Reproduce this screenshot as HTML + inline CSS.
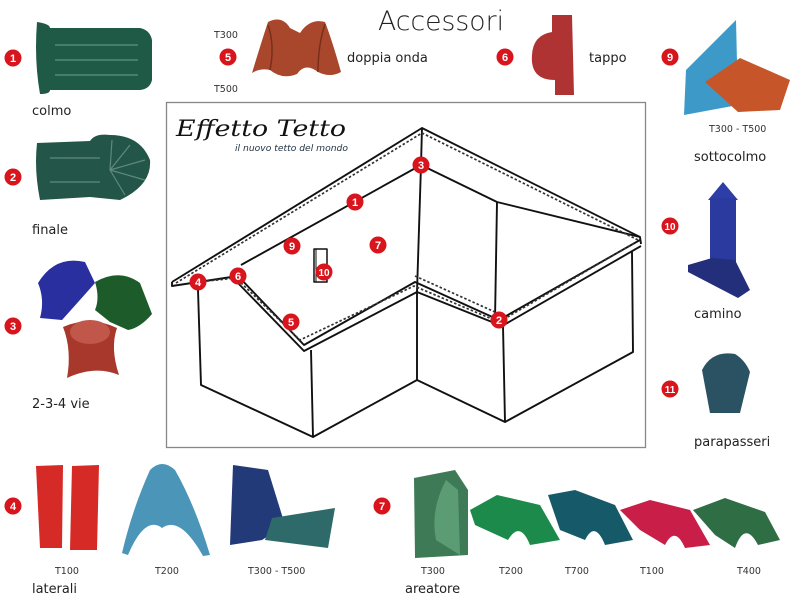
<!DOCTYPE html>
<html><head><meta charset="utf-8"><style>
html,body{margin:0;padding:0;background:#fff}
body{width:800px;height:600px;overflow:hidden;position:relative;font-family:"DejaVu Sans","Liberation Sans",sans-serif}
svg{position:absolute;left:0;top:0}
</style></head><body>
<svg width="800" height="600" viewBox="0 0 800 600" xmlns="http://www.w3.org/2000/svg">
<defs>
<g id="b"><circle r="8.5" fill="#d8141c"/></g>
</defs>
<text x="378" y="30" font-family="DejaVu Sans" font-size="27" font-weight="200" fill="#222" textLength="126" lengthAdjust="spacingAndGlyphs">Accessori</text>

<rect x="166.5" y="102.5" width="479" height="345" fill="#fff" stroke="#888" stroke-width="1.3"/>
<text x="176" y="136" font-family="DejaVu Serif" font-style="italic" font-size="22" fill="#111" textLength="170" lengthAdjust="spacingAndGlyphs">Effetto Tetto</text>
<text x="235" y="151" font-family="DejaVu Sans" font-style="italic" font-size="8.5" fill="#234" textLength="113" lengthAdjust="spacingAndGlyphs">il nuovo tetto del mondo</text>

<g fill="none" stroke="#111" stroke-width="1.9" stroke-linejoin="round">
<polyline points="172,282 422,128 640,237 641,244"/>
<polyline points="172,282 172,286 238,276"/>
<polyline points="238,276 304,345 415,282 499,320 640,240"/>
<polyline points="236,281 304,351 417,292 502,326 641,246"/>
<polyline points="241,265 421,165 497,202 640,237"/>
<polyline points="422,128 421,165 417,292"/>
<polyline points="497,202 495,320"/>
<polyline points="198,290 201,385 313,437 311,350"/>
<polyline points="313,437 417,380 417,292"/>
<polyline points="417,380 505,422 503,326"/>
<polyline points="505,422 633,352 632,252"/>
<rect x="314" y="249" width="13" height="33" stroke-width="1.5"/>
<line x1="316" y1="249" x2="316" y2="282" stroke-width="1"/>
</g>
<g fill="none" stroke="#333" stroke-width="1.7" stroke-dasharray="2.5,2">
<polyline points="176,283 422,133 638,240"/>
<polyline points="198,282 236,278 300,340 414,286 499,322 636,242"/>
<polyline points="415,276 495,312"/>
</g>
<g font-family="Liberation Sans" font-weight="bold" font-size="11" fill="#fff" text-anchor="middle">
<use href="#b" x="421" y="165"/><text x="421" y="169">3</text>
<use href="#b" x="355" y="202"/><text x="355" y="206">1</text>
<use href="#b" x="292" y="246"/><text x="292" y="250">9</text>
<use href="#b" x="378" y="245"/><text x="378" y="249">7</text>
<use href="#b" x="324" y="272"/><text x="324" y="276" font-size="10">10</text>
<use href="#b" x="198" y="282"/><text x="198" y="286">4</text>
<use href="#b" x="238" y="276"/><text x="238" y="280">6</text>
<use href="#b" x="291" y="322"/><text x="291" y="326">5</text>
<use href="#b" x="499" y="320"/><text x="499" y="324">2</text>
<use href="#b" x="13" y="58"/><text x="13" y="62">1</text>
<use href="#b" x="13" y="177"/><text x="13" y="181">2</text>
<use href="#b" x="13" y="326"/><text x="13" y="330">3</text>
<use href="#b" x="13" y="506"/><text x="13" y="510">4</text>
<use href="#b" x="228" y="57"/><text x="228" y="61">5</text>
<use href="#b" x="505" y="57"/><text x="505" y="61">6</text>
<use href="#b" x="670" y="57"/><text x="670" y="61">9</text>
<use href="#b" x="670" y="226"/><text x="670" y="230" font-size="10">10</text>
<use href="#b" x="670" y="389"/><text x="670" y="393" font-size="10">11</text>
<use href="#b" x="382" y="506"/><text x="382" y="510">7</text>
</g>

<g font-family="DejaVu Sans" font-size="13" fill="#222">
<text x="32" y="115">colmo</text>
<text x="32" y="234">finale</text>
<text x="32" y="408">2-3-4 vie</text>
<text x="32" y="593" textLength="45" lengthAdjust="spacingAndGlyphs">laterali</text>
<text x="347" y="62">doppia onda</text>
<text x="589" y="62">tappo</text>
<text x="694" y="161">sottocolmo</text>
<text x="694" y="318">camino</text>
<text x="694" y="446">parapasseri</text>
<text x="405" y="593">areatore</text>
</g>
<g font-family="DejaVu Sans" font-size="9.5" fill="#333">
<text x="214" y="38">T300</text><text x="214" y="92">T500</text>
<text x="709" y="132">T300 - T500</text>
<text x="55" y="574">T100</text><text x="155" y="574">T200</text><text x="248" y="574">T300 - T500</text>
<text x="421" y="574">T300</text><text x="499" y="574">T200</text><text x="565" y="574">T700</text><text x="640" y="574">T100</text><text x="737" y="574">T400</text>
</g>

<path d="M37,22 Q50,24 50,28 L140,28 Q150,30 152,40 L152,80 Q150,89 140,90 L50,90 Q50,94 40,94 Q34,60 37,22Z" fill="#1f5a47"/>
<g stroke="#4f8a76" stroke-width="1.5"><line x1="55" y1="45" x2="138" y2="45"/><line x1="55" y1="60" x2="138" y2="60"/><line x1="55" y1="75" x2="138" y2="75"/></g>
<path d="M37,143 L90,141 Q95,133 110,135 Q140,135 150,160 Q152,185 120,200 L90,197 L40,200 Q34,170 37,143Z" fill="#235549"/>
<g stroke="#5f8a7c" stroke-width="1.2" fill="none"><path d="M110,170 L112,140 M110,170 L130,145 M110,170 L145,160 M110,170 L145,180 M110,170 L125,195"/><line x1="50" y1="158" x2="100" y2="158"/><line x1="50" y1="182" x2="100" y2="182"/></g>
<path d="M38,283 Q55,255 85,262 L95,283 Q80,300 62,320 L40,318 Q45,300 38,283Z" fill="#2a2fa0"/>
<path d="M95,282 Q120,268 140,283 L152,314 Q140,328 128,330 L110,322 L95,310 Q100,298 95,282Z" fill="#1e5b2a"/>
<path d="M63,327 Q90,315 117,328 Q110,348 119,375 Q95,365 67,378 Q72,350 63,327Z" fill="#a8382b"/>
<ellipse cx="90" cy="332" rx="20" ry="12" fill="#c0574a"/>
<path d="M252,73 Q262,40 268,22 Q282,15 290,28 L300,33 Q310,18 325,22 Q332,40 341,72 Q330,78 318,72 Q305,62 297,74 Q282,80 270,70 Q260,68 252,73Z" fill="#a9472c"/>
<path d="M268,25 Q275,45 270,70 M325,24 Q318,45 318,72" stroke="#7a2e1a" stroke-width="1.5" fill="none"/>
<path d="M552,15 L572,15 L574,95 L555,95 L555,80 Q530,80 532,55 Q533,35 552,32Z" fill="#b03333"/>
<path d="M684,115 L686,70 L736,20 L738,105 Z" fill="#3d9ac8"/>
<path d="M705,82 L740,58 L790,80 L780,110 L738,112 Z" fill="#c6562a"/>
<path d="M708,200 L723,182 L738,200 Z" fill="#2e3ea8"/>
<rect x="710" y="198" width="26" height="85" fill="#2b3a9e"/>
<path d="M688,265 L712,258 L735,260 L750,290 L738,298 L688,272Z" fill="#232f7a"/>
<path d="M702,370 Q712,350 735,354 Q745,360 750,372 L740,413 L710,413 Z" fill="#2a5262"/>
<path d="M36,466 L63,465 L62,548 L40,548Z" fill="#d62a26"/>
<path d="M72,466 L99,465 L97,550 L70,550Z" fill="#d62a26"/>
<path d="M122,553 Q132,510 150,470 Q162,458 175,470 Q195,505 210,555 L203,556 Q180,515 162,528 Q145,515 128,555Z" fill="#4a95b8"/>
<path d="M233,465 L268,470 L285,525 L262,540 L230,545 Z" fill="#223a78"/>
<path d="M272,518 L335,508 L328,548 L265,540 Z" fill="#2f6a6a"/>
<path d="M414,478 L455,470 L468,490 L468,555 L415,558 Z" fill="#3f7a56"/>
<path d="M436,540 Q430,510 446,480 L458,490 L460,555Z" fill="#5b9c74"/>
<path d="M470,510 L497,495 L540,505 L560,540 L530,545 Q520,520 508,540 L475,525Z" fill="#1c8a4a"/>
<path d="M548,495 L575,490 L615,505 L633,540 L605,545 Q595,520 585,540 L560,530Z" fill="#165a6a"/>
<path d="M620,510 L650,500 L690,510 L710,545 L685,548 Q675,525 665,545 L640,530Z" fill="#c81e48"/>
<path d="M693,510 L725,498 L765,512 L780,540 L758,545 Q745,520 735,548 L715,535Z" fill="#2f6e44"/>
</svg>
</body></html>
